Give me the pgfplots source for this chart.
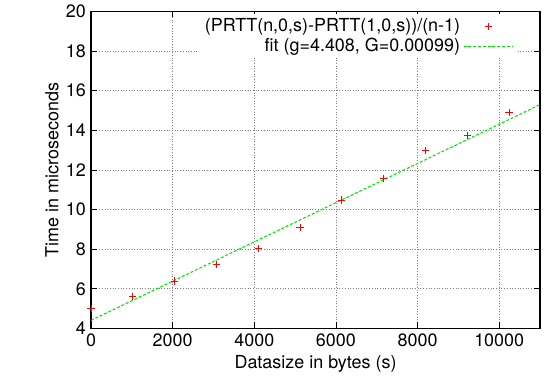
\documentclass[border=0pt]{standalone}
\usepackage{fontspec}
\setmainfont{TeX Gyre Heros}
\usepackage{pgfplots}
\pgfplotsset{compat=1.18}
\pgfplotstableread{
x y
0 5.01
1024 5.63
2048 6.39
3072 7.22
4096 8.03
5120 9.10
6144 10.48
7168 11.58
8192 12.97
9216 13.73
10240 14.91
}\measured
\pgfplotstableread{
x y
0 4.408
11000 15.298
}\fitline
\definecolor{fitgreen}{RGB}{0,230,0}
\begin{document}
\begin{tikzpicture}
\begin{axis}[
  scale only axis,
  width=299.3bp, height=211.3bp,
  xmin=0, xmax=11000, ymin=4, ymax=20,
  xtick={0,2000,...,10000}, ytick={4,6,...,20},
  font=\fontsize{12}{14}\selectfont,
  /pgf/number format/assume math mode=true,
  scaled x ticks=false,
  xticklabel style={/pgf/number format/1000 sep={}},
  tick align=inside, major tick length=4bp,
  tick style={black, line width=0.5bp},
  axis line style={line width=0.8bp},
  grid=major,
  major grid style={gray, line width=0.5bp, dash pattern=on 0.6bp off 1.2bp},
  xlabel={Datasize in bytes (s)},
  ylabel={Time in microseconds},
  xlabel style={yshift=1bp},
  ylabel style={yshift=-2bp},
  legend style={draw=none, fill=white, at={(rel axis cs:0.952,1)}, anchor=north east, yshift=-1.5bp,
    inner xsep=3bp, inner ysep=1bp, row sep=-1bp, font=\fontsize{12}{14}\selectfont},
  legend cell align=right,
  legend plot pos=right,
]
\addplot[forget plot, no marks, color=fitgreen, line width=0.7bp, dash pattern=on 2bp off 1.2bp] table[x=x,y=y]{\fitline};
\addplot[forget plot, only marks, mark=+, mark size=2.4bp, color=red, line width=0.6bp,
  scatter, point meta=y,
  scatter/@pre marker code/.code={\scope[draw=red, color=red, line width=0.6bp, solid]},
  scatter/@post marker code/.code={\endscope}] table[x=x,y=y]{\measured};
\addlegendimage{legend image code/.code={%
  \pgfpathmoveto{\pgfpoint{4bp}{0bp}}\pgfpathlineto{\pgfpoint{37bp}{0bp}}\pgfusepath{discard}%
  \pgfsetstrokecolor{red}\pgfsetlinewidth{0.6bp}%
  \pgfpathmoveto{\pgfpoint{18.1bp}{0bp}}\pgfpathlineto{\pgfpoint{22.9bp}{0bp}}%
  \pgfpathmoveto{\pgfpoint{20.5bp}{-2.4bp}}\pgfpathlineto{\pgfpoint{20.5bp}{2.4bp}}%
  \pgfusepath{stroke}}}
\addlegendentry{(PRTT(n,0,s)-PRTT(1,0,s))/(n-1)}
\addlegendimage{legend image code/.code={%
  \pgfsetstrokecolor{fitgreen}\pgfsetlinewidth{0.7bp}\pgfsetdash{{2bp}{1.2bp}}{0bp}%
  \pgfpathmoveto{\pgfpoint{4bp}{0bp}}\pgfpathlineto{\pgfpoint{37bp}{0bp}}%
  \pgfusepath{stroke}}}
\addlegendentry{fit (g=4.408, G=0.00099)}
\end{axis}
\path ([shift={(-60.7bp,-42bp)}]current axis.south west) rectangle ++(364bp,259.3bp);
\end{tikzpicture}
\end{document}
